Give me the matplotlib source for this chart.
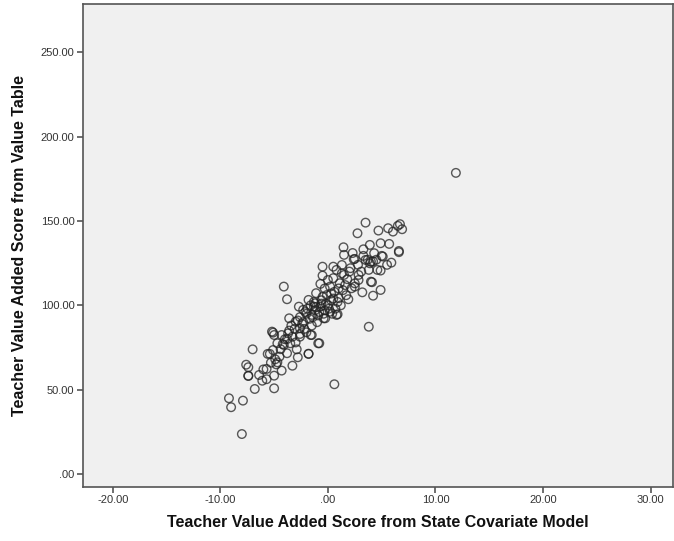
import matplotlib
matplotlib.use("Agg")
import matplotlib.pyplot as plt
from matplotlib.ticker import FuncFormatter

# State covariate model score (x) vs value table score (y)
state_model = [
    11.9, -8.0, -9.2, -9.0, -7.9, -6.8, -5.0, -7.0, -7.6, -7.4,
    -7.4, -6.4, -6.1, -5.7, -5.7, -5.0, -4.3, -3.3, -2.8, -1.8,
    -0.9, -1.6, -5.6, -5.4, -4.8, -4.7, -4.5, -5.1, -4.7, -4.1,
    -3.8, -3.5, -2.9, -4.3, -5.1, -3.7, -2.6, -4.0, -3.3, -4.1,
    -3.8, -7.4, 0.6, 3.8, -5.2, -5.0, -3.6, -2.7, -1.8, -1.1,
    -0.5, -0.5, -0.7, 0.5, 1.5, 2.4, 3.3, 4.0, 4.9, 5.1,
    5.9, 6.6, 4.1, 3.2, 4.2, 4.9, 1.9, 0.9, -0.25, -1.3,
    -1.5, -0.8, -1.8, 1.45, 2.5, 3.3, 3.9, 4.3, 3.5, 3.9,
    3.8, 4.6, 4.0, 1.3, 2.1, 1.3, 1.8, 2.85, 2.85, 2.2,
    2.5, 1.1, 0.5, 0.2, -0.1, 1.0, -1.2, -0.7, -2.3, -1.5,
    -0.4, 0.8, 0.2, -3.0, -2.6, -2.6, -4.2, 3.5, 2.75, 4.7,
    5.6, 6.05, 6.7, 6.9, 6.5, 4.9, 5.7, 6.6, 5.0, 3.7,
    4.2, -2.0, -1.7, -1.2, -0.9, -0.6, -0.3, 0.0, 0.3, -1.5,
    -2.3, -1.0, -0.5, -2.6, -3.1, -3.4, -2.0, 0.6, 1.0, 1.5,
    2.0, 0.8, 0.0, -0.3, 2.5, 1.7, -3.8, -4.4, -4.9, -5.3,
    -6.0, -3.0, -2.2, -1.3, 0.4, 1.2, 2.8, 3.1, 2.3, 5.5,
    4.5, -1.9, -0.8, 0.1, 0.9, -2.4, -1.4, 0.5, 1.6, -0.2,
    -1.1, -0.4, 0.3, -2.8, -1.6, 0.7, -0.6, 1.4, -3.6, -2.1,
]
value_table = [
    178.5, 23.7, 44.9, 39.6, 43.5, 50.4, 50.8, 73.9, 64.8, 63.3,
    58.3, 58.7, 55.3, 62.3, 56.2, 58.3, 61.3, 64.2, 69.2, 71.3,
    77.5, 82.4, 71.2, 71.2, 65.0, 66.2, 69.6, 73.5, 77.5, 76.5,
    71.6, 77.5, 73.9, 82.4, 83.8, 83.4, 83.0, 79.9, 81.4, 111.1,
    103.6, 58.1, 53.2, 87.3, 84.4, 82.4, 92.3, 99.2, 103.2, 107.2,
    122.9, 117.6, 112.7, 122.9, 129.9, 127.3, 129.3, 125.9, 120.6, 128.9,
    125.3, 131.5, 113.7, 107.7, 105.7, 109.1, 103.6, 94.7, 92.3, 99.2,
    82.4, 77.5, 71.2, 134.4, 127.5, 133.2, 135.8, 130.9, 126.9, 124.9,
    121.0, 121.0, 114.0, 123.9, 122.0, 119.0, 115.5, 118.0, 115.0, 110.1,
    111.1, 113.1, 116.1, 111.1, 106.1, 104.2, 101.2, 99.2, 97.3, 94.3,
    92.3, 94.3, 96.2, 90.3, 86.4, 81.4, 77.0, 149.0, 142.7, 144.3,
    145.7, 143.7, 148.1, 145.1, 147.1, 136.8, 136.4, 132.2, 129.3, 127.0,
    126.0, 95.0, 92.0, 97.0, 94.0, 101.0, 97.0, 100.0, 103.0, 88.0,
    90.0, 90.0, 105.0, 93.0, 86.0, 88.0, 84.0, 108.0, 110.0, 118.0,
    120.0, 121.0, 115.0, 110.0, 113.0, 106.0, 80.0, 74.0, 68.0, 66.0,
    62.0, 78.0, 86.0, 102.0, 95.0, 100.0, 124.0, 120.0, 131.0, 124.0,
    127.0, 98.0, 96.0, 98.0, 102.0, 89.0, 93.0, 104.0, 112.0, 101.0,
    99.0, 95.0, 107.0, 91.0, 100.0, 98.0, 103.0, 109.0, 85.0, 96.0,
]

x_ticks = [-20, -10, 0, 10, 20, 30]
y_ticks = [0, 50, 100, 150, 200, 250]


def spss_fmt(v, pos):
    s = "%.2f" % v
    if s.startswith("0."):
        s = s[1:]
    return s


plt.rcParams["font.family"] = ["Liberation Sans", "DejaVu Sans"]

fig = plt.figure(figsize=(6.74, 5.41), dpi=100, facecolor="white")
ax = fig.add_axes([0.1227, 0.0998, 0.876, 0.8928])
ax.set_facecolor("#f0f0f0")

ax.scatter(state_model, value_table, s=38, facecolors="none",
           edgecolors="#222222", linewidths=1.0, alpha=0.75, zorder=3)

ax.set_xlim(-22.8, 32.1)
ax.set_ylim(-7.7, 278.6)
ax.set_xticks(x_ticks)
ax.set_yticks(y_ticks)
ax.xaxis.set_major_formatter(FuncFormatter(spss_fmt))
ax.yaxis.set_major_formatter(FuncFormatter(spss_fmt))

for side in ["left", "bottom", "top", "right"]:
    ax.spines[side].set_color("#555555")
    ax.spines[side].set_linewidth(1.2)

ax.tick_params(axis="both", direction="out", length=4, width=1.2,
               color="#555555", labelsize=8, labelcolor="#333333", pad=2)

ax.set_xlabel("Teacher Value Added Score from State Covariate Model",
              fontsize=11.5, fontweight="bold", color="#111111", labelpad=7)
ax.set_ylabel("Teacher Value Added Score from Value Table",
              fontsize=11.5, fontweight="bold", color="#111111", labelpad=10)

fig.savefig("out.png", dpi=100, facecolor="white")
